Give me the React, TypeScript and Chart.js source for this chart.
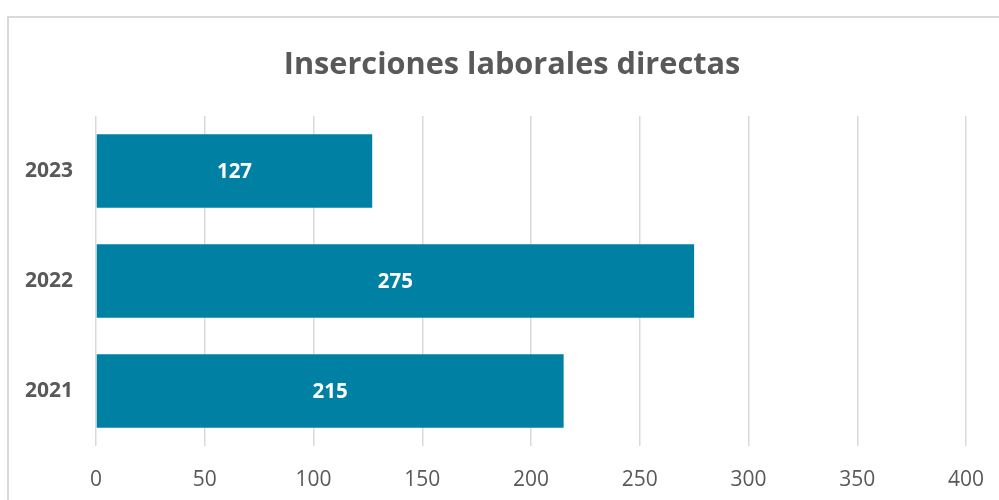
import React, { useEffect, useRef } from "react";
import { Chart, registerables } from "chart.js";

Chart.register(...registerables);

const categories: string[] = ["2023", "2022", "2021"];
const insertions: number[] = [127, 275, 215];
const xMin = 0;
const xMax = 400;
const xStep = 50;
const titleText = "Inserciones laborales directas";

const FONT = "'Open Sans', 'Noto Sans', sans-serif";
const GRAY = "#595959";
const BAR = "#0080A3";

// Title drawn in the reserved top padding, centred on the chart frame
const frameTitle = {
  id: "frameTitle",
  afterDraw(chart: any) {
    const { ctx } = chart;
    ctx.save();
    ctx.fillStyle = GRAY;
    ctx.font = `bold 30.7px ${FONT}`;
    ctx.textAlign = "center";
    ctx.textBaseline = "middle";
    ctx.fillText(titleText, 512, 65);
    ctx.restore();
  },
};

const valueLabels = {
  id: "valueLabels",
  afterDatasetsDraw(chart: any) {
    const { ctx } = chart;
    const meta = chart.getDatasetMeta(0);
    ctx.save();
    ctx.fillStyle = "#ffffff";
    ctx.font = `bold 20.5px ${FONT}`;
    ctx.textAlign = "center";
    ctx.textBaseline = "middle";
    meta.data.forEach((bar: any, i: number) => {
      const p = bar.getProps(["x", "y", "base"], true);
      const cx = (p.x + p.base) / 2;
      ctx.fillText(String(chart.data.datasets[0].data[i]), cx, p.y + 1);
    });
    ctx.restore();
  },
};

export default function App() {
  const ref = useRef<HTMLCanvasElement | null>(null);

  useEffect(() => {
    if (!ref.current) return;
    const chart = new Chart(ref.current, {
      type: "bar",
      data: {
        labels: categories,
        datasets: [
          {
            data: insertions,
            backgroundColor: BAR,
            borderWidth: 0,
            barPercentage: 0.67,
            categoryPercentage: 1,
          },
        ],
      },
      options: {
        indexAxis: "y",
        responsive: false,
        animation: false,
        layout: { padding: { left: 0, right: 33, top: 116, bottom: 0 } },
        plugins: {
          legend: { display: false },
          tooltip: { enabled: false },
          title: { display: false },
        },
        scales: {
          x: {
            min: xMin,
            max: xMax,
            grid: { display: true, color: "#d9d9d9", lineWidth: 1.5, drawTicks: false },
            border: { display: false },
            afterFit: (scale: any) => {
              scale.height = 54;
              scale.paddingRight = 0;
              scale.paddingLeft = 0;
            },
            ticks: {
              stepSize: xStep,
              color: GRAY,
              padding: 21,
              font: { family: FONT, size: 21, lineHeight: 1.2 },
            },
          },
          y: {
            grid: { display: false, drawTicks: false },
            border: { display: false },
            afterFit: (scale: any) => {
              scale.width = 96;
            },
            ticks: {
              color: GRAY,
              padding: 23,
              font: { family: FONT, size: 21, weight: "bold" },
            },
          },
        },
      },
      plugins: [valueLabels, frameTitle],
    });
    return () => chart.destroy();
  }, []);

  return (
    <div
      style={{
        position: "fixed",
        left: 0,
        top: 0,
        width: 999,
        height: 500,
        overflow: "hidden",
        background: "#ffffff",
      }}
    >
      <div
        style={{
          position: "absolute",
          left: 7,
          top: 16,
          width: 1100,
          height: 700,
          border: "2px solid #d9d9d9",
        }}
      />
      <canvas
        ref={ref}
        width={999}
        height={500}
        style={{ position: "absolute", left: 0, top: 0, width: 999, height: 500 }}
      />
    </div>
  );
}
